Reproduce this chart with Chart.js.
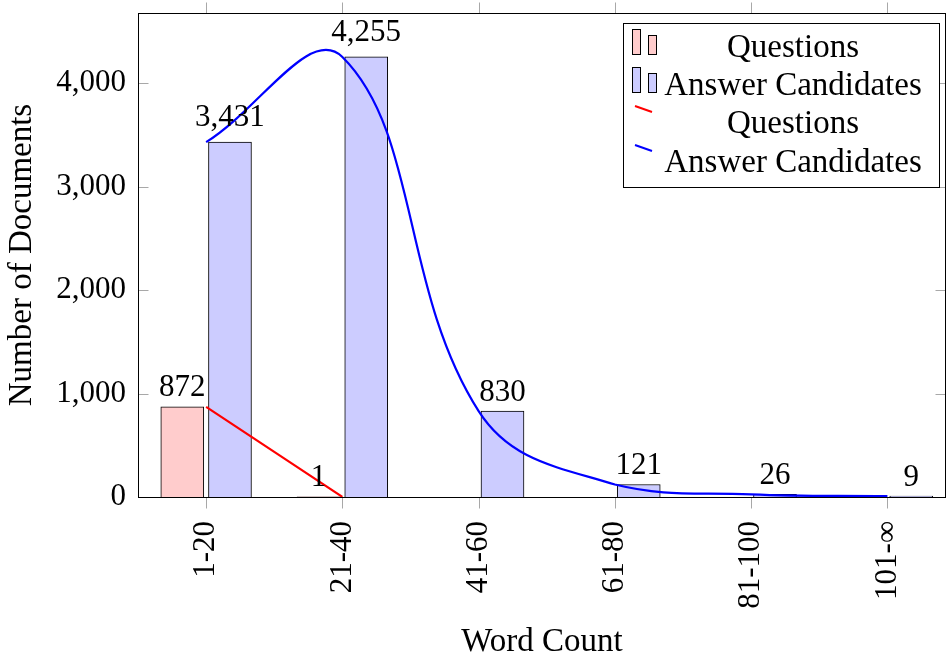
<!DOCTYPE html>
<html>
<head>
<meta charset="utf-8">
<script src="https://cdn.jsdelivr.net/npm/chart.js@4.4.0/dist/chart.umd.min.js"></script>
<style>
body{margin:0;background:#fff;}
</style>
</head>
<body>
<canvas id="myChart1" width="947" height="662"></canvas>
<script>
// data
let categories = ['1-20', '21-40', '41-60', '61-80', '81-100', '101-∞'];
let questions = [872, 1, null, null, null, null];
let answers = [3431, 4255, 830, 121, 26, 9];
let yTicks = [0, 1000, 2000, 3000, 4000];

const barShift = 0.175;
const serif = "'Liberation Serif', 'Times New Roman', serif";
const numFont = {family: serif, size: 31};
const txtFont = {family: serif, size: 33};

function pts(values, shift){
	let out = [];
	for(var i=0;i<values.length;i=i+1){
		if(values[i] == null) continue;
		out.push({x: i + shift, y: values[i]});
	}
	return out;
}

function fmt(v){
	return Number(v).toLocaleString('en-US');
}

// frame + tick marks
const framePlugin = {
	id: 'frame',
	afterDatasetsDraw(chart){
		const ctx = chart.ctx;
		const a = chart.chartArea;
		const l = Math.round(a.left) + 0.5, r = Math.round(a.right) - 0.5;
		const t = Math.round(a.top) + 0.5, b = Math.round(a.bottom) + 0.5;
		ctx.save();
		ctx.lineWidth = 1;
		ctx.strokeStyle = '#a8a8a8';
		ctx.beginPath();
		categories.forEach((c, i) => {
			let x = Math.round(chart.scales.x.getPixelForValue(i)) + 0.5;
			ctx.moveTo(x, b); ctx.lineTo(x, b + 11);
			ctx.moveTo(x, t); ctx.lineTo(x, t - 11);
		});
		yTicks.forEach(v => {
			let y = Math.round(chart.scales.y.getPixelForValue(v)) + 0.5;
			ctx.moveTo(l, y); ctx.lineTo(l + 10, y);
			ctx.moveTo(r, y); ctx.lineTo(r - 10, y);
		});
		ctx.stroke();
		ctx.strokeStyle = '#000';
		ctx.strokeRect(l, t, r - l, b - t);
		ctx.restore();
	}
};

// numbers above bars
const labelPlugin = {
	id: 'barLabels',
	afterDatasetsDraw(chart){
		const ctx = chart.ctx;
		ctx.save();
		ctx.font = numFont.size + 'px ' + serif;
		ctx.fillStyle = '#000';
		ctx.textAlign = 'center';
		ctx.textBaseline = 'alphabetic';
		chart.data.datasets.forEach((ds, di) => {
			if(ds.type == 'line') return;
			const meta = chart.getDatasetMeta(di);
			meta.data.forEach((el, i) => {
				let txt = fmt(ds.data[i].y);
				let gap = txt.indexOf(',') >= 0 ? 16 : 10.5;
				ctx.fillText(txt, el.x, el.y - gap);
			});
		});
		ctx.restore();
	}
};

// legend box like pgfplots
const legendPlugin = {
	id: 'boxLegend',
	afterDraw(chart){
		const ctx = chart.ctx;
		const box = {l: 623, t: 23, r: 939, b: 187};
		const baselines = [57, 95, 133, 172];
		const order = [2, 3, 0, 1];
		ctx.save();
		ctx.fillStyle = '#fff';
		ctx.fillRect(box.l, box.t, box.r - box.l, box.b - box.t);
		ctx.strokeStyle = '#000';
		ctx.lineWidth = 1;
		ctx.strokeRect(box.l + 0.5, box.t + 0.5, box.r - box.l, box.b - box.t);
		ctx.font = txtFont.size + 'px ' + serif;
		ctx.textAlign = 'center';
		ctx.textBaseline = 'alphabetic';
		order.forEach((di, k) => {
			const ds = chart.data.datasets[di];
			const bl = baselines[k];
			if(ds.type == 'line'){
				ctx.strokeStyle = ds.borderColor;
				ctx.lineWidth = 2;
				ctx.beginPath();
				ctx.moveTo(635, bl - 27);
				ctx.lineTo(652, bl - 21);
				ctx.stroke();
			}else{
				ctx.fillStyle = ds.backgroundColor;
				ctx.strokeStyle = '#000';
				ctx.lineWidth = 1;
				ctx.fillRect(632, bl - 28, 8, 25);
				ctx.strokeRect(632.5, bl - 27.5, 8, 25);
				ctx.fillRect(648, bl - 22, 8, 19);
				ctx.strokeRect(648.5, bl - 21.5, 8, 19);
			}
			ctx.fillStyle = '#000';
			ctx.fillText(ds.label, 793, bl);
		});
		ctx.restore();
	}
};

const data = {
	datasets: [{
		type: 'line',
		label: 'Questions',
		data: pts(questions, 0),
		borderColor: 'rgb(255, 0, 0)',
		borderWidth: 2.2,
		pointRadius: 0,
		tension: 0.4,
		order: 0
	}, {
		type: 'line',
		label: 'Answer Candidates',
		data: pts(answers, 0),
		borderColor: 'rgb(0, 0, 255)',
		borderWidth: 2.2,
		pointRadius: 0,
		tension: 0.4,
		order: 0
	}, {
		label: 'Questions',
		data: pts(questions, -barShift),
		backgroundColor: 'rgb(255, 204, 204)',
		borderColor: '#000',
		borderWidth: 1,
		barThickness: 43,
		grouped: false,
		order: 1
	}, {
		label: 'Answer Candidates',
		data: pts(answers, barShift),
		backgroundColor: 'rgb(204, 204, 255)',
		borderColor: '#000',
		borderWidth: 1,
		barThickness: 43,
		grouped: false,
		order: 1
	}]
};

const config = {
	type: 'bar',
	data: data,
	options: {
		responsive: false,
		animation: false,
		devicePixelRatio: 1,
		layout: {padding: {top: 13, right: 1, left: 0, bottom: 0}},
		plugins: {legend: {display: false}, tooltip: {enabled: false}},
		scales: {
			x: {
				type: 'linear',
				min: -0.5,
				max: 5.43,
				offset: false,
				grid: {display: false, drawTicks: false},
				border: {display: false},
				afterBuildTicks: s => { s.ticks = categories.map((c, i) => ({value: i})); },
				afterFit: s => { s.height = 165; s.paddingLeft = 0; s.paddingRight = 0; },
				ticks: {
					autoSkip: false, maxRotation: 90, minRotation: 90, padding: 24,
					font: numFont, color: '#000',
					callback: v => categories[v]
				},
				title: {display: true, text: 'Word Count', font: txtFont, color: '#000', padding: 0}
			},
			y: {
				min: 0,
				max: 4680,
				grid: {display: false, drawTicks: false},
				border: {display: false},
				afterBuildTicks: s => { s.ticks = yTicks.map(v => ({value: v})); },
				afterFit: s => { s.width = 138; s.paddingTop = 0; s.paddingBottom = 0; },
				ticks: {padding: 12, font: numFont, color: '#000', callback: v => fmt(v)},
				title: {display: true, text: 'Number of Documents', font: txtFont, color: '#000', padding: {top: 3, bottom: 0}}
			}
		}
	},
	plugins: [framePlugin, labelPlugin, legendPlugin]
};

let myChart1 = new Chart(document.getElementById('myChart1'), config);
</script>
</body>
</html>
